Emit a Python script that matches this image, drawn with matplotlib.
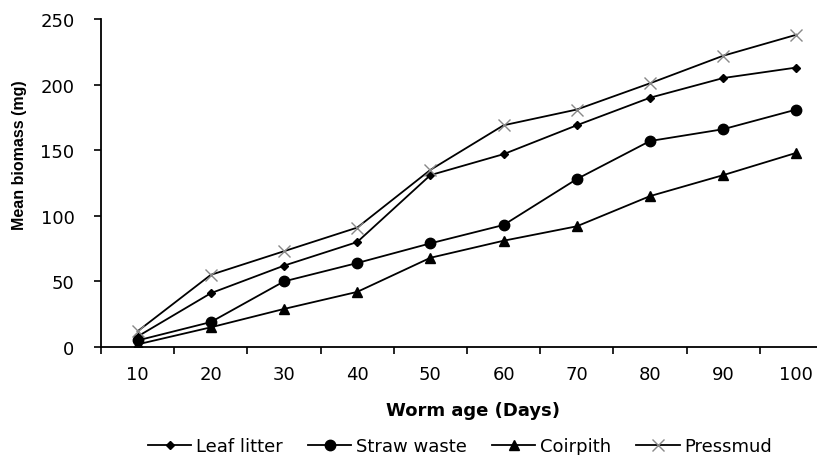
import matplotlib
matplotlib.use("Agg")
import matplotlib.pyplot as plt
import numpy as np

days = [10, 20, 30, 40, 50, 60, 70, 80, 90, 100]
leaf_litter = [8, 41, 62, 80, 131, 147, 169, 190, 205, 213]
straw_waste = [5, 19, 50, 64, 79, 93, 128, 157, 166, 181]
coirpith = [2, 15, 29, 42, 68, 81, 92, 115, 131, 148]
pressmud = [12, 55, 73, 91, 135, 169, 181, 201, 222, 238]

plt.rcParams['font.family'] = ['DejaVu Sans']

fig = plt.figure(figsize=(8.17, 4.56), dpi=100)
W, H = 817, 456
x0, x1, ytop, ybot = 101, 833, 20, 348
ax = fig.add_axes([x0 / W, (H - ybot) / H, (x1 - x0) / W, (ybot - ytop) / H])

x = np.arange(len(days))
lw = 1.3
ax.plot(x, leaf_litter, color='black', lw=lw, marker='D', ms=4.5, label='Leaf litter')
ax.plot(x, straw_waste, color='black', lw=lw, marker='o', ms=7.5, label='Straw waste')
ax.plot(x, coirpith, color='black', lw=lw, marker='^', ms=7.5, label='Coirpith')
ax.plot(x, pressmud, color='black', lw=lw, marker='x', ms=9, mec='#888888', mew=1.0, label='Pressmud')

ax.set_xlim(-0.5, len(days) - 0.5)
ax.set_ylim(0, 250)
ax.set_yticks([0, 50, 100, 150, 200, 250])
ax.set_xticks(x)
ax.set_xticklabels([str(d) for d in days])
ax.set_xticks(np.arange(-0.5, len(days)), minor=True)
ax.tick_params(axis='x', which='major', length=0, labelsize=13, pad=13)
ax.tick_params(axis='x', which='minor', length=5, width=1.2, direction='out')
ax.tick_params(axis='y', length=5, width=1.2, direction='out', labelsize=13, pad=14)
for s in ['top', 'right']:
    ax.spines[s].set_visible(False)
for s in ['left', 'bottom']:
    ax.spines[s].set_linewidth(1.3)

fig.text(20 / W, 1 - 155 / H, 'Mean biomass (mg)', rotation=90, ha='center', va='center',
         fontsize=11.5, fontweight='bold', family=['Liberation Sans', 'DejaVu Sans'])
fig.text(473 / W, 1 - 411 / H, 'Worm age (Days)', ha='center', va='center',
         fontsize=13, fontweight='bold')

handles, labels = ax.get_legend_handles_labels()
fig.legend(handles, labels, loc='center', bbox_to_anchor=(460 / W, 1 - 447 / H), ncol=4,
           frameon=False, fontsize=13, handlelength=2.4, handletextpad=0.25,
           columnspacing=1.4, borderpad=0)

fig.savefig('out.png', dpi=100)
